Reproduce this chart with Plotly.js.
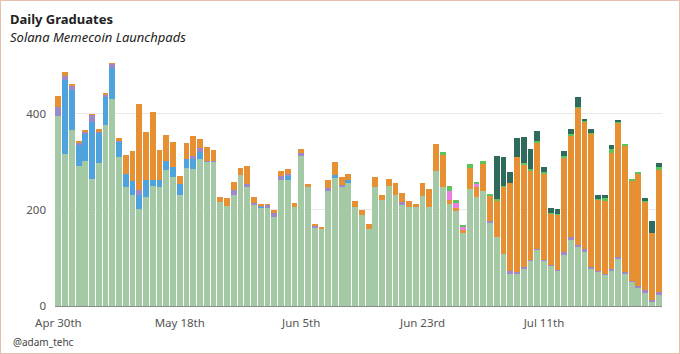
<!DOCTYPE html>
<html>
<head>
<meta charset="utf-8">
<script src="https://cdn.plot.ly/plotly-3.0.1.min.js"></script>
<style>
  html, body { margin: 0; padding: 0; background: #ffffff; }
  #wrap { position: relative; width: 680px; height: 354px; }
  #chart { width: 680px; height: 354px; }
  #frame { position: absolute; left: 0; top: 0; width: 680px; height: 354px; box-sizing: border-box; border: 1px solid #e8bfae; pointer-events: none; }
</style>
</head>
<body>
<div id="wrap"><div id="chart"></div><div id="frame"></div></div>
<script>
// Daily dates: Apr 30 .. Jul 28 (90 days)
const startDate = '2025-04-30';
const nDays = 90;

const pumpfun = [396,317,367,292,302,265,298,376,430,311,248,232,201,226,249,247,284,268,230,287,
  286,305,300,300,216,209,232,272,248,210,203,204,185,263,262,206,313,247,163,161,
  240,266,247,256,206,190,161,247,221,249,232,211,206,207,228,206,282,247,213,197,
  152,244,226,239,173,143,109,67,66,78,93,116,93,84,73,107,138,122,113,76,
  71,64,73,98,67,50,38,28,9,23];
const moonshot = [0,153,83,44,57,119,62,58,66,30,27,29,31,37,14,15,17,22,23,19,
  21,15,0,0,0,0,0,0,0,0,3,0,0,0,9,0,0,0,0,0,
  0,6,0,7,0,0,0,0,0,0,0,0,0,0,0,0,0,0,0,0,
  0,0,0,0,0,0,0,0,0,0,0,0,0,0,0,0,0,0,0,0,
  0,0,0,0,0,0,0,0,0,0];
const boop = [19,9,8,3,3,13,2,5,7,3,0,0,10,0,0,0,0,0,0,0,
  6,9,2,2,0,0,9,0,6,4,2,6,9,7,4,0,5,0,4,0,
  6,0,4,0,0,0,0,0,0,0,0,5,0,0,0,0,0,0,0,0,
  0,0,0,0,3,0,0,6,5,4,3,3,3,2,2,5,5,6,5,5,
  2,2,3,5,4,2,4,5,3,6];
const letsbonk = [23,9,4,5,4,2,7,5,3,5,40,62,178,100,140,62,54,51,18,33,
  41,18,29,22,11,15,17,15,37,12,5,3,5,10,10,8,9,7,3,3,
  17,28,17,12,12,9,9,22,10,15,25,19,12,5,27,38,56,68,8,7,
  6,43,21,57,52,75,138,183,240,212,186,220,179,106,114,196,211,285,264,277,
  147,153,242,278,261,209,233,183,140,255];
const believe = [0,0,0,0,0,0,0,0,0,0,0,0,0,0,0,0,0,0,0,0,
  0,0,0,0,0,0,0,0,0,0,0,0,0,0,0,0,0,0,0,0,
  0,0,0,0,0,0,0,0,0,0,0,0,0,0,0,0,0,0,18,11,
  6,0,7,0,0,0,0,0,0,0,0,0,0,0,0,0,0,0,0,0,
  0,0,0,0,0,0,0,0,0,0];
const jupStudio = [0,0,0,0,0,0,0,0,0,0,0,0,0,0,0,0,0,0,0,0,
  0,0,0,0,0,0,0,0,0,0,0,0,0,0,0,0,0,0,0,0,
  0,0,0,0,0,0,0,0,0,0,0,0,0,0,0,0,0,5,10,5,
  4,9,5,5,5,5,2,0,0,4,3,4,3,2,3,5,3,2,3,2,
  2,6,9,3,5,4,3,2,0,5];
const bags = [0,0,0,0,0,0,0,0,0,0,0,0,0,0,0,0,0,0,0,0,
  0,0,0,0,0,0,0,0,0,0,0,0,0,0,0,0,0,0,0,0,
  0,0,0,0,0,0,0,0,0,0,0,0,0,0,0,0,0,0,0,0,
  0,0,0,0,0,90,61,23,38,54,42,22,11,10,10,10,12,19,4,9,
  10,5,9,4,0,0,0,7,24,9];

const tickVals = ['2025-04-30','2025-05-18','2025-06-05','2025-06-23','2025-07-11'];
const tickText = ['Apr 30th','May 18th','Jun 5th','Jun 23rd','Jul 11th'];

const seriesNames = ['Pump.fun','Moonshot','Boop','LetsBonk','Believe','Jupiter Studio','Bags'];
const seriesColors = ['#a3c9a5','#4ea3dc','#9d88c8','#e68f33','#ee7ee2','#5dc45b','#2f6b5c'];
const seriesValues = [pumpfun, moonshot, boop, letsbonk, believe, jupStudio, bags];

const dates = [];
{
  const d0 = new Date(startDate + 'T00:00:00Z');
  for (let i = 0; i < nDays; i++) {
    const d = new Date(d0.getTime() + i * 86400000);
    dates.push(d.toISOString().slice(0, 10));
  }
}

const traces = seriesValues.map((vals, k) => ({
  type: 'bar',
  name: seriesNames[k],
  x: dates,
  y: vals,
  marker: { color: seriesColors[k], line: { width: 0 } },
  hoverinfo: 'x+y+name'
}));

const font = "'Noto Sans', 'Open Sans', sans-serif";

const layout = {
  width: 680,
  height: 354,
  barmode: 'stack',
  bargap: 0.14,
  showlegend: false,
  paper_bgcolor: '#ffffff',
  plot_bgcolor: '#ffffff',
  margin: { l: 55, r: 18, t: 60, b: 48 },
  font: { family: font, size: 12, color: '#555555' },
  xaxis: {
    type: 'date',
    range: ['2025-04-29 12:00', '2025-07-28 12:00'],
    tickvals: tickVals,
    ticktext: tickText,
    tickmode: 'array',
    showgrid: false,
    showline: true,
    linecolor: '#8a8a8a',
    linewidth: 1,
    ticks: '',
    ticklabelstandoff: 6,
    tickfont: { family: font, size: 11.5, color: '#555555' },
    zeroline: false
  },
  yaxis: {
    range: [0, 512],
    tickvals: [0, 200, 400],
    ticktext: ['0', '200', '400'],
    tickmode: 'array',
    showgrid: true,
    gridcolor: '#e8e8e8',
    gridwidth: 1,
    zeroline: false,
    ticks: '',
    ticklabelstandoff: 8,
    tickfont: { family: font, size: 11.5, color: '#555555' }
  },
  annotations: [
    {
      xref: 'paper', yref: 'paper',
      x: (8 - 55) / 607, y: (306 - 8) / 246,
      xanchor: 'left', yanchor: 'top',
      text: '<b>Daily Graduates</b>',
      showarrow: false,
      font: { family: font, size: 13, color: '#222222' }
    },
    {
      xref: 'paper', yref: 'paper',
      x: (8 - 55) / 607, y: (306 - 26) / 246,
      xanchor: 'left', yanchor: 'top',
      text: '<i>Solana Memecoin Launchpads</i>',
      showarrow: false,
      font: { family: font, size: 13, color: '#222222' }
    },
    {
      xref: 'paper', yref: 'paper',
      x: (11 - 55) / 607, y: (306 - 333) / 246,
      xanchor: 'left', yanchor: 'top',
      text: '@adam_tehc',
      showarrow: false,
      font: { family: font, size: 10, color: '#444444' }
    }
  ]
};

Plotly.newPlot('chart', traces, layout, { displayModeBar: false, staticPlot: true });
</script>
</body>
</html>
